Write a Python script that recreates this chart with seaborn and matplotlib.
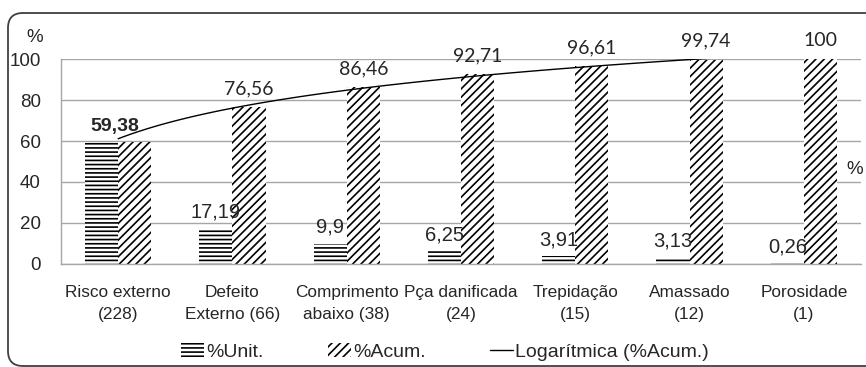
import numpy as np
import pandas as pd
import matplotlib
matplotlib.use("Agg")
import matplotlib.pyplot as plt
import seaborn as sns
from copy import copy
from matplotlib.patches import FancyBboxPatch
from matplotlib.lines import Line2D

# ----------------------------
# dados
# ----------------------------
categorias = ['Risco externo\n(228)', 'Defeito\nExterno (66)', 'Comprimento\nabaixo (38)',
              'Pça danificada\n(24)', 'Trepidação\n(15)', 'Amassado\n(12)', 'Porosidade\n(1)']
pct_unit = [59.38, 17.19, 9.9, 6.25, 3.91, 3.13, 0.26]
pct_acum = [59.38, 76.56, 86.46, 92.71, 96.61, 99.74, 100]
yticks = [0, 20, 40, 60, 80, 100]

pos = np.arange(1, len(categorias) + 1)
df = pd.DataFrame({
    'pos': np.concatenate([pos, pos]),
    'valor': pct_unit + pct_acum,
    'serie': ['%Unit.'] * len(pos) + ['%Acum.'] * len(pos),
})

# ----------------------------
# estilo
# ----------------------------
sns.set_theme(style='white')
FONTE = ['Liberation Sans', 'DejaVu Sans']
plt.rcParams['font.family'] = FONTE
plt.rcParams['hatch.linewidth'] = 1.2

fig = plt.figure(figsize=(8.66, 3.67), dpi=100)
ax = fig.add_axes([0.0704, 0.2807, 0.9238, 0.5585])

sns.barplot(data=df, x='pos', y='valor', hue='serie', native_scale=True,
            width=0.58, palette=['white', 'white'], edgecolor='black',
            linewidth=0, legend=False, ax=ax, zorder=2)

hatches = ['----', '////']
for cont, h in zip(ax.containers, hatches):
    for p in cont:
        p.set_hatch(h)
        p.set_edgecolor('black')
        p.set_linewidth(0)

# linha de tendência logarítmica sobre %Acum.
sns.regplot(x=pos, y=pct_acum, logx=True, ci=None, scatter=False, truncate=True,
            line_kws={'color': 'black', 'lw': 1.0}, ax=ax)

ax.set_xlim(0.5, len(categorias) + 0.5)
ax.set_ylim(0, 100)
ax.set_yticks(yticks)
ax.set_yticklabels([str(v) for v in yticks], fontsize=13.5)
ax.set_xticks(pos)
ax.set_xticklabels(categorias, fontsize=12.4, linespacing=1.6)
ax.set_xticks(np.arange(0.5, len(categorias) + 1, 1), minor=True)
ax.tick_params(axis='x', which='major', length=0, pad=15)
ax.tick_params(axis='x', which='minor', length=5, color='#999999', width=1, direction='out')
ax.tick_params(axis='y', length=5, color='#999999', width=1, pad=9.5, direction='out')
ax.set_xlabel('')
ax.set_ylabel('')
ax.grid(axis='y', color='#a6a6a6', lw=1, zorder=0)
ax.set_axisbelow(True)
for s in ['top', 'right']:
    ax.spines[s].set_visible(False)
for s in ['left', 'bottom']:
    ax.spines[s].set_color('#a6a6a6')
    ax.spines[s].set_linewidth(1)

# rótulos
def fmt(v):
    return f"{v:g}".replace('.', ',')

for i, (x, u, a) in enumerate(zip(pos, pct_unit, pct_acum)):
    if i == 0:
        ax.annotate(fmt(u), (x - 0.03, u), xytext=(0, 5), textcoords='offset points',
                    ha='center', va='bottom', fontsize=14, fontweight='bold',
                    annotation_clip=False)
        continue
    ax.annotate(fmt(u), (x - 0.145, u), xytext=(0, 5), textcoords='offset points',
                ha='center', va='bottom', fontsize=14.5, annotation_clip=False)
    ax.annotate(fmt(a), (x + 0.145, a), xytext=(0, 7), textcoords='offset points',
                ha='center', va='bottom', fontsize=14, family=['Lato', 'DejaVu Sans'],
                annotation_clip=False)

fig.text(35 / 866, 1 - 38 / 367, '%', ha='center', va='center', fontsize=13.5)
fig.text(855 / 866, 1 - 170 / 367, '%', ha='center', va='center', fontsize=13.5)

# legenda
h0 = copy(ax.containers[0][0])
h1 = copy(ax.containers[1][0])
linha = Line2D([0], [0], color='black', lw=1.0)
fig.legend([h0, h1, linha], ['%Unit.', '%Acum.', 'Logarítmica (%Acum.)'],
           loc='center', bbox_to_anchor=(445 / 866, 1 - 352 / 367), ncol=3,
           frameon=False, fontsize=14, handlelength=1.2, handleheight=0.7,
           handletextpad=0.1, columnspacing=3.3)

# borda arredondada
borda = FancyBboxPatch((0.08, 0.01), 9.0, 3.53, boxstyle='round,pad=0,rounding_size=0.15',
                       transform=fig.dpi_scale_trans, fill=False, ec='#404040', lw=1.3,
                       clip_on=False)
fig.patches.append(borda)

fig.savefig('out.png', dpi=100)
